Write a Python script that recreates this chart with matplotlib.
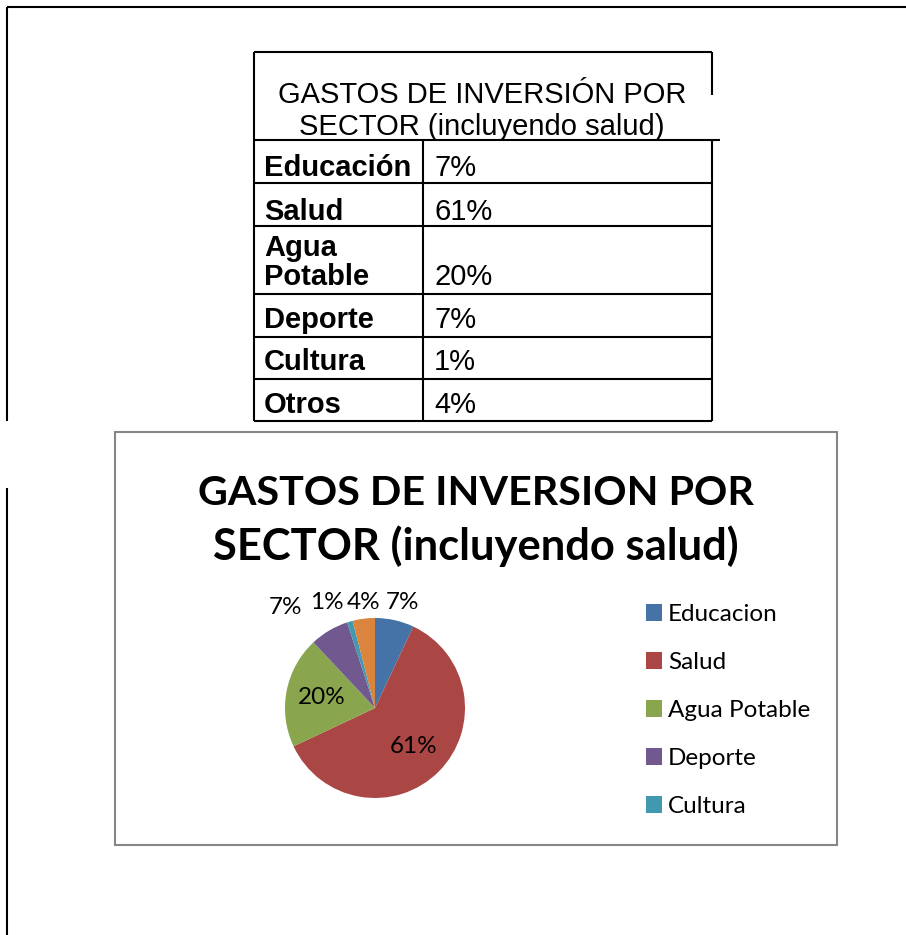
import matplotlib
matplotlib.use("Agg")
import matplotlib.pyplot as plt
from matplotlib.patches import Rectangle, Patch

# data
sectores_tabla = ["Educación", "Salud", "Agua\nPotable", "Deporte", "Cultura", "Otros"]
sectores_pie = ["Educacion", "Salud", "Agua Potable", "Deporte", "Cultura", "Otros"]
porcentajes = [7, 61, 20, 7, 1, 4]
colores = ["#4572A7", "#AA4643", "#89A54E", "#71588F", "#4198AF", "#DB843D"]
titulo_tabla = "GASTOS DE INVERSIÓN POR\nSECTOR (incluyendo salud)"
titulo_pie = "GASTOS DE INVERSION POR\nSECTOR (incluyendo salud)"

W, H = 906, 935
fig = plt.figure(figsize=(W / 100, H / 100), dpi=100)

# background axes in pixel coordinates (layout only)
bg = fig.add_axes([0, 0, 1, 1])
bg.set_xlim(0, W)
bg.set_ylim(H, 0)
bg.axis("off")

line_kw = dict(color="black", lw=1.5, solid_capstyle="butt")
# page frame
bg.plot([7, W], [7, 7], **line_kw)
bg.plot([7, 7], [7, 421], **line_kw)
bg.plot([7, 7], [488, H], **line_kw)

# table frame
tl, tc, tr = 254, 423, 712
row_lines = [140, 183, 226, 294, 337, 379, 421]
bg.plot([tl, tr], [52, 52], **line_kw)
bg.plot([tr, tr], [52, 95], **line_kw)
bg.plot([tl, tl], [52, 421], **line_kw)
bg.plot([tl, 720], [140, 140], **line_kw)
bg.plot([tc, tc], [140, 421], **line_kw)
bg.plot([tr, tr], [140, 421], **line_kw)
for y in row_lines[1:]:
    bg.plot([tl, tr], [y, y], **line_kw)

arial = ["Liberation Sans", "DejaVu Sans"]
bg.text(482, 103, titulo_tabla.split("\n")[0], ha="center", va="baseline",
        fontsize=21, family=arial)
bg.text(482, 135, titulo_tabla.split("\n")[1], ha="center", va="baseline",
        fontsize=21, family=arial)

baselines = [176, 220, 285, 328, 370, 413]
for nombre, pct, yb in zip(sectores_tabla, porcentajes, baselines):
    bg.text(264, yb, nombre, ha="left", va="baseline", fontsize=21,
            fontweight="bold", family=arial, linespacing=1.05)
    bg.text(434, yb, f"{pct}%", ha="left", va="baseline", fontsize=21, family=arial)

# chart box
bg.add_patch(Rectangle((115, 432), 722, 413, fill=False, edgecolor="#868686", lw=1.5))

calibri = ["Lato", "DejaVu Sans"]
bg.text(476, 505, titulo_pie.split("\n")[0], ha="center", va="baseline",
        fontsize=29.7, fontweight="bold", family=calibri)
bg.text(476, 560, titulo_pie.split("\n")[1], ha="center", va="baseline",
        fontsize=31.3, fontweight="bold", family=calibri)

# pie axes: center (375, 708), radius 90 px
cx, cy, r = 375, 708, 90
ax = fig.add_axes([(cx - r) / W, (H - cy - r) / H, 2 * r / W, 2 * r / H])
wedges, texts, autotexts = ax.pie(
    porcentajes, colors=colores, startangle=90, counterclock=False,
    autopct="%1.0f%%", pctdistance=0.6,
    wedgeprops=dict(linewidth=0),
    textprops=dict(fontsize=17.5, family=calibri, color="black"),
)
ax.set_xlim(-1, 1)
ax.set_ylim(-1, 1)
ax.set_aspect("equal")

# outside labels for the small slices (best-fit positions as in the original)
outside = {0: (0.31, 1.17), 3: (-0.99, 1.12), 4: (-0.54, 1.17), 5: (-0.13, 1.17)}
for i, pos in outside.items():
    autotexts[i].set_position(pos)
    autotexts[i].set_ha("center")
    autotexts[i].set_va("center")
    autotexts[i].set_clip_on(False)

handles = [Patch(facecolor=c, edgecolor="none") for c in colores[:5]]
fig.legend(handles, sectores_pie[:5], loc="upper left",
           bbox_to_anchor=(646 / W, 1 - 604 / H), frameon=False,
           prop=dict(family=calibri, size=17.5), borderpad=0, borderaxespad=0,
           handlelength=0.66, handleheight=0.66, handletextpad=0.25,
           labelspacing=1.11)

fig.savefig("out.png", dpi=100)
